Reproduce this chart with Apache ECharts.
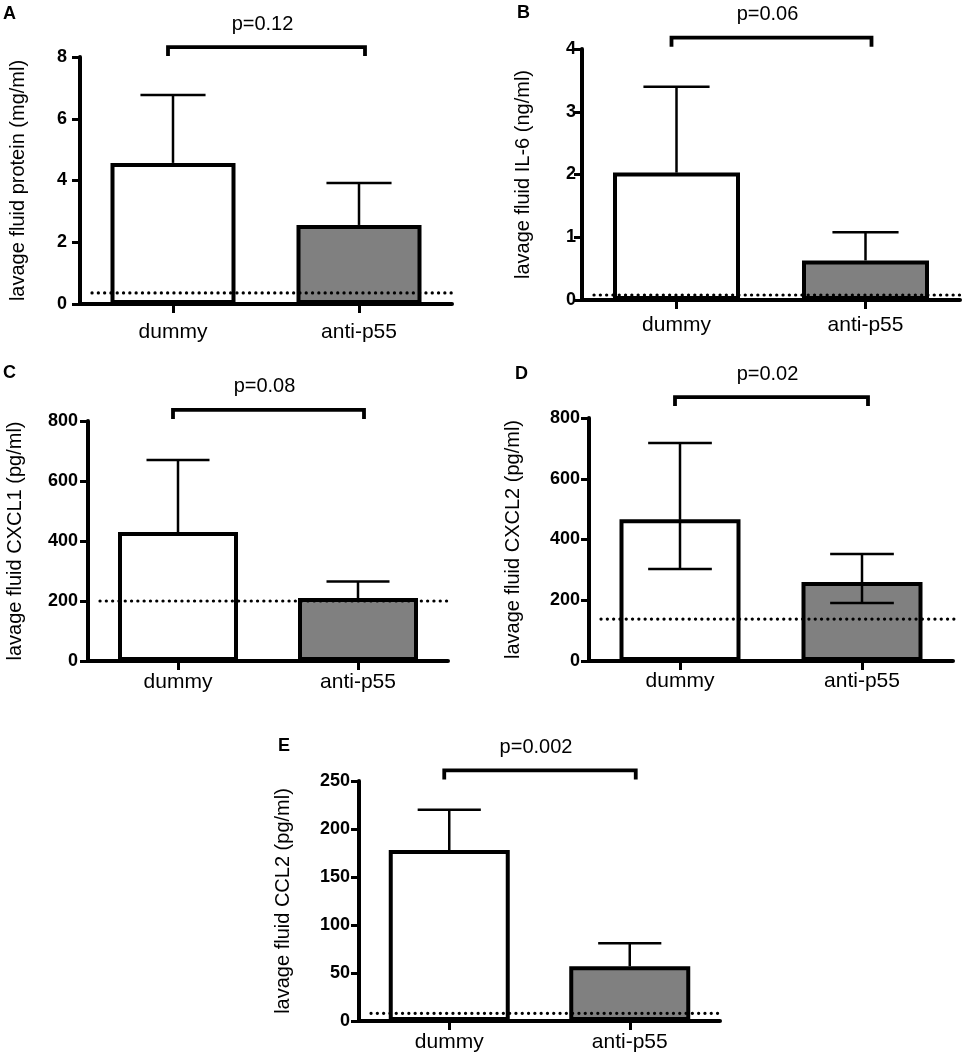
<!DOCTYPE html>
<html><head><meta charset="utf-8">
<script src="https://cdn.jsdelivr.net/npm/echarts@6/dist/echarts.min.js"></script>
<style>html,body{margin:0;padding:0;background:#fff}#c{width:965px;height:1055px}</style>
</head><body><div id="c"></div>
<script>
// ---------- data ----------
const categories = ['dummy', 'anti-p55'];
const panelLetters = ['A', 'B', 'C', 'D', 'E'];
const yTitles = [
  'lavage fluid protein (mg/ml)',
  'lavage fluid IL-6 (ng/ml)',
  'lavage fluid CXCL1 (pg/ml)',
  'lavage fluid CXCL2 (pg/ml)',
  'lavage fluid CCL2 (pg/ml)'
];
const yMax = [8, 4, 800, 800, 250];
const yStep = [2, 1, 200, 200, 50];

const meanProtein = [4.57, 2.56];
const upperProtein = [6.77, 3.92];
const lowerProtein = [null, null];

const meanIL6 = [2.03, 0.63];
const upperIL6 = [3.40, 1.08];
const lowerIL6 = [null, null];

const meanCXCL1 = [430, 210];
const upperCXCL1 = [670, 265];
const lowerCXCL1 = [null, null];

const meanCXCL2 = [467, 260];
const upperCXCL2 = [718, 352];
const lowerCXCL2 = [303, 191];

const meanCCL2 = [178, 57];
const upperCCL2 = [220, 81];
const lowerCCL2 = [null, null];

const detectionLimit = [0.36, 0.08, 200, 138, 8];
const pValues = ['p=0.12', 'p=0.06', 'p=0.08', 'p=0.02', 'p=0.002'];
const bracketLevel = [8.32, 4.18, 837, 869, 261];

const means = [meanProtein, meanIL6, meanCXCL1, meanCXCL2, meanCCL2];
const uppers = [upperProtein, upperIL6, upperCXCL1, upperCXCL2, upperCCL2];
const lowers = [lowerProtein, lowerIL6, lowerCXCL1, lowerCXCL2, lowerCCL2];

// ---------- layout / style ----------
const FONT = '"Liberation Sans", Arial, Helvetica, sans-serif';
const grids = [
  {left: 80, top: 57, width: 372, height: 247},
  {left: 582, top: 49, width: 378, height: 251},
  {left: 88, top: 421, width: 360, height: 240},
  {left: 589, top: 418, width: 364, height: 243},
  {left: 359, top: 781, width: 361, height: 240}
];
const barWidths = [125, 127, 120, 121, 121];
const xLabelMargin = [18, 15, 11, 10, 11];
const yLabelMargin = [13, 6, 10, 9, 9];
const nameGaps = [52, 49, 63, 66, 66];
const letterPos = [[3, 5], [517, 4], [3, 364], [515, 365], [278, 737]];
const barColors = ['#ffffff', '#808080'];

const option = {
  animation: false,
  backgroundColor: '#ffffff',
  title: [], grid: [], xAxis: [], yAxis: [], series: []
};

for (let i = 0; i < 5; i++) {
  option.title.push({
    text: panelLetters[i], left: letterPos[i][0], top: letterPos[i][1], padding: 0,
    textStyle: {fontFamily: FONT, fontSize: 18, fontWeight: 'bold', color: '#000'}
  });
  option.grid.push(Object.assign({containLabel: false}, grids[i]));
  option.xAxis.push({
    type: 'category', gridIndex: i, data: categories,
    axisLine: {show: true, lineStyle: {color: '#000', width: 4}},
    axisTick: {show: true, alignWithLabel: true, length: 9, lineStyle: {color: '#000', width: 3}},
    axisLabel: {color: '#000', fontSize: 21, fontFamily: FONT, margin: xLabelMargin[i]},
    splitLine: {show: false}
  });
  option.yAxis.push({
    type: 'value', gridIndex: i, min: 0, max: yMax[i], interval: yStep[i],
    name: yTitles[i], nameLocation: 'middle', nameRotate: 90, nameGap: nameGaps[i],
    nameTextStyle: {color: '#000', fontSize: 20, fontFamily: FONT},
    axisLine: {show: true, lineStyle: {color: '#000', width: 4}},
    axisTick: {show: true, length: 8, lineStyle: {color: '#000', width: 3}},
    axisLabel: {color: '#000', fontSize: 18, fontWeight: 'bold', fontFamily: FONT, margin: yLabelMargin[i]},
    splitLine: {show: false}
  });
  // bars
  option.series.push({
    type: 'bar', xAxisIndex: i, yAxisIndex: i, barWidth: barWidths[i], z: 2,
    itemStyle: {borderColor: '#000', borderWidth: 4},
    data: means[i].map((v, j) => ({value: v, itemStyle: {color: barColors[j]}}))
  });
  // error bars
  const up = uppers[i], lo = lowers[i], mn = means[i];
  option.series.push({
    type: 'custom', xAxisIndex: i, yAxisIndex: i, z: 3, clip: false,
    data: mn.map((v, j) => [j, v]),
    renderItem: function (params, api) {
      const j = params.dataIndex;
      const band = api.size([1, 0])[0];
      const half = band * 0.175;
      const pm = api.coord([j, mn[j]]);
      const pu = api.coord([j, up[j]]);
      const st = {stroke: '#000', lineWidth: 2.5};
      const children = [
        {type: 'line', shape: {x1: pm[0], y1: pm[1], x2: pu[0], y2: pu[1]}, style: st},
        {type: 'line', shape: {x1: pu[0] - half, y1: pu[1], x2: pu[0] + half, y2: pu[1]}, style: st}
      ];
      if (lo[j] != null) {
        const pl = api.coord([j, lo[j]]);
        children.push({type: 'line', shape: {x1: pm[0], y1: pm[1], x2: pl[0], y2: pl[1]}, style: st});
        children.push({type: 'line', shape: {x1: pl[0] - half, y1: pl[1], x2: pl[0] + half, y2: pl[1]}, style: st});
      }
      return {type: 'group', children: children};
    }
  });
  // detection limit dotted line
  const lim = detectionLimit[i];
  option.series.push({
    type: 'custom', xAxisIndex: i, yAxisIndex: i, z: 4, clip: false,
    data: [[0, lim]],
    renderItem: function (params, api) {
      const cs = params.coordSys;
      const p = api.coord([0, lim]);
      return {type: 'line', shape: {x1: cs.x + 12, y1: p[1], x2: cs.x + cs.width + 3, y2: p[1]},
        style: {stroke: '#000', lineWidth: 3.2, lineDash: [0.1, 6.2], lineCap: 'round'}};
    }
  });
  // significance bracket
  const lvl = bracketLevel[i], ptxt = pValues[i];
  option.series.push({
    type: 'custom', xAxisIndex: i, yAxisIndex: i, z: 4, clip: false,
    data: [[0, lvl]],
    renderItem: function (params, api) {
      const a = api.coord([0, lvl]);
      const b = api.coord([1, lvl]);
      const x0 = a[0] - 5, x1 = b[0] + 6, y = a[1];
      return {type: 'group', children: [
        {type: 'polyline', shape: {points: [[x0, y + 9], [x0, y], [x1, y], [x1, y + 9]]},
          style: {stroke: '#000', lineWidth: 3.8, fill: null}},
        {type: 'text', x: (x0 + x1) / 2 - 4, y: y - 23,
          style: {text: ptxt, fill: '#000', font: '20px ' + FONT, textAlign: 'center', textVerticalAlign: 'middle'}}
      ]};
    }
  });
}

const chart = echarts.init(document.getElementById('c'), null, {renderer: 'canvas'});
chart.setOption(option);
</script>
</body></html>
